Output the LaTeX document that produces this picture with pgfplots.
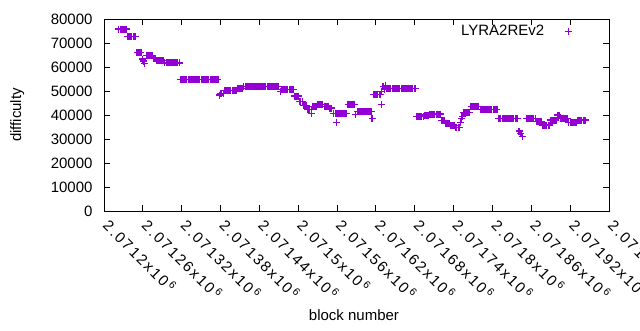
\documentclass[border=0pt]{standalone}
\usepackage{fontspec}
\setmainfont{Liberation Sans}
\newfontfamily\ticklbl[LetterSpace=13]{Liberation Sans}
\usepackage{pgfplots}
\pgfplotsset{compat=1.18}
\definecolor{gpviolet}{RGB}{148,0,211}
\pgfplotsset{gplegend/.style={legend image code/.code={\path (0pt,0pt); \draw[##1, only marks, mark options={line width=0.8pt}] plot coordinates {(22pt,0pt)};}}}
\newcommand{\tl}[1]{#1x10\,\textsuperscript{6}}
% x values: block number minus 2071200
\begin{document}
\begin{tikzpicture}[x=1pt,y=1pt]
\useasboundingbox (0,0) rectangle (640,330);
\begin{axis}[
  at={(104pt,119pt)}, anchor=south west,
  scale only axis, width=505pt, height=192pt,
  xmin=0, xmax=780, ymin=0, ymax=80000,
  xtick={0,60,...,780},
  xticklabels={\tl{2.0712},\tl{2.07126},\tl{2.07132},\tl{2.07138},\tl{2.07144},\tl{2.0715},\tl{2.07156},\tl{2.07162},\tl{2.07168},\tl{2.07174},\tl{2.0718},\tl{2.07186},\tl{2.07192},\tl{2.07198}},
  ytick={0,10000,...,80000},
  scaled y ticks=false,
  axis line style={line width=0.9pt},
  tick style={line width=0.9pt, black},
  major tick length=6pt,
  tick align=inside,
  every tick label/.append style={font=\fontsize{15}{18}\selectfont},
  yticklabel style={/pgf/number format/fixed, /pgf/number format/1000 sep={}, /pgf/number format/assume math mode=true, xshift=-8pt},
  xticklabel style={yshift=-9pt, xshift=0pt, rotate=-45, anchor=west, font=\fontsize{15}{18}\ticklbl},
  xlabel={block number},
  ylabel={difficulty},
  label style={font=\fontsize{15}{18}\selectfont},
  xlabel style={at={(axis description cs:0.495,-0.542)}, anchor=center},
  ylabel style={at={(axis description cs:-0.172,0.5)}, anchor=center},
  legend style={draw=none, fill=none, at={(0.933,0.99)}, anchor=north east, font=\fontsize{15}{18}\selectfont, legend cell align=right},
  legend plot pos=right,
]
\addplot[only marks, mark=+, mark size=3.5pt, color=gpviolet, mark options={line width=1.2pt}, gplegend]
coordinates {
(23,75800) (25,75800) (27,75800) (29,75800) (31,75800) (33,75800) (35,75800)
(37,72800) (39,72800) (41,72800) (43,72800) (45,72800) (47,72800) (49,72800)
(51,66100) (53,66100) (55,66100) (57,66100)
(59,63300) (61,62500) (63,61400)
(66,64900) (68,64900) (70,64900) (72,64900) (74,64900)
(76,63600) (78,63600) (80,63600)
(82,62600) (84,62600) (86,62600) (88,62600) (90,62600) (92,62600)
(94,61700) (96,61700) (98,61700) (100,61700) (102,61700) (104,61700) (106,61700) (108,61700) (110,61700) (112,61700) (114,61700) (116,61700)
(118,54800) (120,54800) (122,54800) (124,54800) (126,54800) (128,54800) (130,54800) (132,54800) (134,54800) (136,54800) (138,54800) (140,54800) (142,54800) (144,54800) (146,54800)
(148,54800) (150,54800) (152,54800) (154,54800) (156,54800) (158,54800) (160,54800) (162,54800) (164,54800) (166,54800) (168,54800) (170,54800) (172,54800) (174,54800) (176,54800)
(178,48300)
(180,49000) (182,49000) (184,49000)
(186,50300) (188,50300) (190,50300) (192,50300) (194,50300) (196,50300) (198,50300) (200,50300) (202,50300) (204,50300)
(206,51200) (208,51200) (210,51200) (212,51200) (214,51200)
(216,52000) (218,52000) (220,52000) (222,52000) (224,52000) (226,52000) (228,52000) (230,52000) (232,52000) (234,52000) (236,52000) (238,52000) (240,52000) (242,52000)
(244,52000) (246,52000) (248,52000) (250,52000) (252,52000) (254,52000) (256,52000) (258,52000) (260,52000) (262,52000) (264,52000) (266,52000) (268,52000) (270,52000)
(272,49700)
(274,50700) (276,50700) (278,50700) (280,50700) (282,50700) (284,50700) (286,50700) (288,50700) (290,50700) (292,50700)
(294,47900) (296,47900) (298,47900) (300,47900)
(302,45600) (304,45600) (306,45600)
(308,44100) (310,44100) (312,44100)
(314,42400) (316,42400) (318,42400) (320,42400)
(321,40500)
(322,43700) (324,43700) (326,43700) (328,43700)
(330,44500) (332,44500) (334,44500) (336,44500) (338,44500)
(340,43700) (342,43700) (344,43700) (346,43700)
(348,42900) (350,42900) (352,42900)
(354,40700)
(357,40700) (359,40700) (361,40700) (363,40700) (365,40700) (367,40700) (369,40700) (371,40700) (373,40700) (375,40700)
(359,37000)
(377,44500) (379,44500) (381,44500) (383,44500) (385,44500) (387,44500)
(389,40300)
(391,41400) (393,41400) (395,41400) (397,41400) (399,41400) (401,41400) (403,41400) (405,41400) (407,41400) (409,41400) (411,41400) (413,41400)
(414,38600)
(417,48600) (419,48600) (421,48600) (423,48600) (425,48600) (427,48600)
(428,44500)
(429,49800) (431,51800) (433,50500) (435,52300)
(437,51100) (439,51100) (441,51100) (443,51100) (445,51100) (447,51100) (449,51100) (451,51100) (453,51100) (455,51100) (457,51100) (459,51100)
(461,51100) (463,51100) (465,51100) (467,51100) (469,51100) (471,51100) (473,51100) (475,51100) (477,51100) (479,51100) (481,51100)
(483,39300) (485,39300) (487,39300) (489,39300) (491,39300) (493,39300)
(495,40000) (497,40000) (499,40000) (501,40000)
(503,40400) (505,40400) (507,40400) (509,40400) (511,40400) (513,40400) (515,40400) (517,40400) (519,40400)
(521,37800) (523,37800) (525,37800)
(527,36600) (529,36600) (531,36600) (533,36600)
(535,35600) (537,35600) (539,35600) (541,35600)
(543,34800) (545,34800) (547,34800) (549,34800)
(551,37000) (552,38600) (553,39500)
(555,40900) (557,40900) (559,40900) (561,40900) (563,40900) (565,40900)
(567,43600) (569,43600) (571,43600) (573,43600) (575,43600) (577,43600) (579,43600)
(581,42400) (583,42400) (585,42400) (587,42400) (589,42400) (591,42400) (593,42400) (595,42400) (597,42400) (599,42400) (601,42400) (603,42400) (605,42400) (607,42400)
(609,38600) (611,38600) (613,38600) (615,38600) (617,38600) (619,38600) (621,38600) (623,38600) (625,38600) (627,38600) (629,38600) (631,38600) (633,38600) (635,38600) (637,38600) (639,38600)
(641,33300) (644,32400) (647,31200)
(652,38600) (654,38600) (656,38600) (658,38600) (660,38600) (662,38600) (664,38600) (666,38600)
(668,37200) (670,37200) (672,37200) (674,37200) (676,37200)
(678,35800) (680,35800) (682,35800) (684,35800) (686,35800) (688,35800)
(690,37900) (692,37900) (694,37900) (696,37900) (698,37900)
(700,40000)
(702,39800) (704,39800)
(706,38600) (708,38600) (710,38600) (712,38600) (714,38600) (716,38600)
(718,36800) (720,36800) (722,36800) (724,36800) (726,36800) (728,36800) (730,36800)
(732,37900) (734,37900) (736,37900) (738,37900) (740,37900) (742,37900) (744,37900)
};
\addlegendentry{LYRA2REv2}
\end{axis}
\end{tikzpicture}
\end{document}
